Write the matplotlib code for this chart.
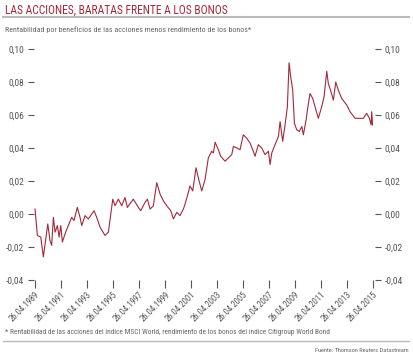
import matplotlib
matplotlib.use("Agg")
import matplotlib.pyplot as plt

# Series (decimal years, spread)
years = [1989.32, 1989.50, 1989.76, 1989.96, 1990.30, 1990.47, 1990.60, 1990.73, 1990.86,
         1991.04, 1991.17, 1991.30, 1991.42, 1991.63, 1991.88, 1992.14, 1992.32, 1992.57,
         1992.78, 1992.91, 1993.17, 1993.42, 1993.68, 1993.86, 1994.11, 1994.32, 1994.70,
         1994.96, 1995.30, 1995.47, 1995.73, 1995.99, 1996.24, 1996.42, 1996.88, 1997.27,
         1997.45, 1997.78, 1997.96, 1998.17, 1998.42, 1998.68, 1998.94, 1999.19, 1999.45,
         1999.76, 1999.96, 2000.22, 2000.47, 2000.73, 2000.86, 2001.11, 2001.24, 2001.45,
         2001.70, 2001.88, 2002.14, 2002.40, 2002.65, 2002.91, 2003.04, 2003.17, 2003.42,
         2003.60, 2003.94, 2004.19, 2004.45, 2004.58, 2004.84, 2005.09, 2005.34, 2005.60,
         2005.86, 2006.11, 2006.24, 2006.50, 2006.76, 2007.01, 2007.27, 2007.40, 2007.53,
         2007.78, 2008.04, 2008.17, 2008.37, 2008.55, 2008.73, 2008.86, 2008.99, 2009.14,
         2009.27, 2009.45, 2009.65, 2009.84, 2009.96, 2010.17, 2010.27, 2010.47, 2010.68,
         2010.86, 2011.11, 2011.37, 2011.55, 2011.76, 2011.88, 2012.09, 2012.27, 2012.45,
         2012.65, 2012.91, 2013.30, 2013.55, 2013.94, 2014.32, 2014.57, 2014.83, 2015.04,
         2015.17, 2015.22, 2015.28]
spread = [0.003, -0.013, -0.014, -0.026, -0.006, -0.016, -0.019, -0.002, -0.011,
          -0.007, -0.014, -0.007, -0.017, -0.012, -0.007, -0.002, -0.004, 0.004,
          -0.002, -0.007, -0.001, -0.003, 0.000, 0.002, -0.003, -0.008, -0.013,
          -0.011, 0.009, 0.005, 0.009, 0.005, 0.010, 0.004, 0.009, 0.004,
          0.002, 0.007, 0.009, 0.003, 0.005, 0.019, 0.012, 0.008, 0.005,
          0.002, -0.003, 0.001, -0.001, 0.003, 0.006, 0.013, 0.017, 0.014,
          0.028, 0.022, 0.014, 0.021, 0.034, 0.038, 0.037, 0.0435, 0.039,
          0.035, 0.032, 0.034, 0.036, 0.041, 0.040, 0.039, 0.048, 0.046,
          0.043, 0.038, 0.035, 0.042, 0.040, 0.036, 0.038, 0.030, 0.037,
          0.042, 0.047, 0.056, 0.044, 0.054, 0.065, 0.0917, 0.083, 0.075,
          0.055, 0.051, 0.050, 0.053, 0.048, 0.057, 0.063, 0.073, 0.070,
          0.065, 0.058, 0.065, 0.071, 0.0865, 0.079, 0.074, 0.069, 0.080,
          0.075, 0.070, 0.066, 0.062, 0.058, 0.058, 0.058, 0.061, 0.058,
          0.054, 0.062, 0.054]

tick_years = [1989.32 + 2 * i for i in range(14)]
tick_labels = ["26.04.%d" % (1989 + 2 * i) for i in range(14)]
y_ticks = [-0.04, -0.02, 0.00, 0.02, 0.04, 0.06, 0.08, 0.10]
y_labels = ["-0,04", "-0,02", "0,00", "0,02", "0,04", "0,06", "0,08", "0,10"]

plt.rcParams['font.family'] = ['Roboto Condensed', 'Roboto']

red = "#a3283a"
grey = "#555555"

fig = plt.figure(figsize=(4.14, 3.57), dpi=100)
ax = fig.add_axes([34 / 414, 1 - 280 / 357, 341 / 414, 231 / 357])

ax.plot(years, spread, color=red, lw=0.8)

ax.set_xlim(1989.24, 2015.47)
ax.set_ylim(-0.04, 0.10)
for s in ax.spines.values():
    s.set_visible(False)

ax.set_xticks(tick_years)
ax.set_xticklabels(tick_labels, rotation=45, ha="right", va="top",
                   rotation_mode="anchor", fontsize=6.2, color=grey)
ax.set_yticks(y_ticks)
ax.set_yticklabels(y_labels, fontsize=6.8, color=grey)
ax.tick_params(axis="x", direction="out", length=6, width=0.8, color=grey, pad=1)
ax.tick_params(axis="y", direction="out", length=4.5, width=0.8, color=grey, pad=2.5,
               left=True, right=True, labelleft=True, labelright=True)

# header and footer
fig.text(5 / 414, 1 - 10 / 357, "LAS ACCIONES, BARATAS FRENTE A LOS BONOS",
         color=red, fontsize=8.3, va="center", ha="left")
fig.add_artist(plt.Line2D([3 / 414, 409 / 414], [1 - 17 / 357, 1 - 17 / 357],
                          color="#bbbbbb", lw=1.5))
fig.text(5 / 414, 1 - 30 / 357,
         "Rentabilidad por beneficios de las acciones menos rendimiento de los bonos*",
         color="#666666", fontsize=5.8, va="center", ha="left")
fig.text(5 / 414, 1 - 332 / 357,
         "* Rentabilidad de las acciones del índice MSCI World, rendimiento de los bonos del índice Citigroup World Bond",
         color="#666666", fontsize=5.35, va="center", ha="left")
fig.add_artist(plt.Line2D([3 / 414, 409 / 414], [1 - 341 / 357, 1 - 341 / 357],
                          color="#bbbbbb", lw=1.0))
fig.text(409 / 414, 1 - 350 / 357, "Fuente: Thomson Reuters Datastream",
         color="#666666", fontsize=4.6, va="center", ha="right")

fig.savefig("out.png", dpi=100)
